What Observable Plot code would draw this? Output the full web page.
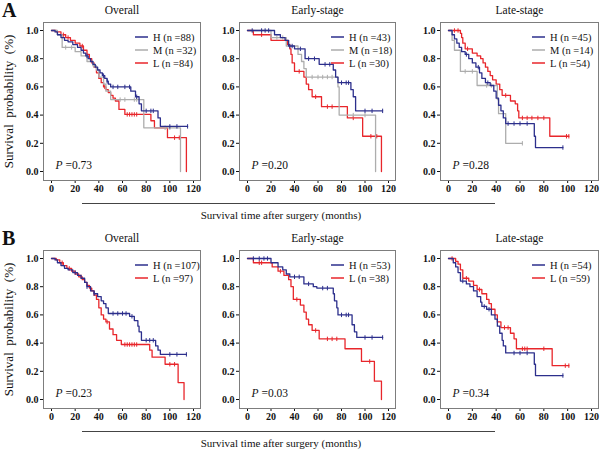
<!DOCTYPE html>
<html><head><meta charset="utf-8">
<script src="https://cdn.jsdelivr.net/npm/d3@7"></script>
<script src="https://cdn.jsdelivr.net/npm/@observablehq/plot@0.6"></script>
<style>
body{margin:0;background:#fff;}
#root{position:relative;width:600px;height:456px;background:#fff;font-family:"Liberation Serif","Times New Roman",serif;overflow:hidden;color:#111;}
#root svg{position:absolute;overflow:visible;}
#root [aria-label*="axis"] text{font-weight:bold;}
.letter{position:absolute;left:2px;font-size:20px;font-weight:bold;line-height:20px;}
.hline{position:absolute;left:82px;width:413px;border-top:1px solid #444;}
.xlab{position:absolute;left:181px;width:200px;text-align:center;font-size:11px;line-height:12px;}
</style></head><body><div id="root"></div>
<script>
// ---------- tick labels ----------
const xTicks = [0, 20, 40, 60, 80, 100, 120];
const yTicks = [0, 0.2, 0.4, 0.6, 0.8, 1.0];
const rowLetters = ["A", "B"];
const panelTitles = ["Overall", "Early-stage", "Late-stage"];
const pValuesA = ["0.73", "0.20", "0.28"];
const pValuesB = ["0.23", "0.03", "0.34"];
const xAxisTitle = "Survival time after surgery (months)";
const yAxisTitle = "Survival  probability  (%)";

// ---------- A: Overall ----------
const aOvH_t = [3,5,8,11,14,18,22,25,27,29,31,33,35,37,39,41,43,45,47,48,50,67,71,74,76,90,92];
const aOvH_s = [0.99,0.97,0.95,0.93,0.92,0.90,0.88,0.86,0.84,0.82,0.80,0.78,0.76,0.74,0.72,0.70,0.68,0.66,0.64,0.62,0.60,0.57,0.53,0.48,0.43,0.38,0.32];
const aOvH_c = [30,44,47,52,56,62,66,72,80,84,86,100,106,115];
const aOvM_t = [5,9,20,25,30,35,38,40,44,46,50,78,109];
const aOvM_s = [0.97,0.88,0.85,0.82,0.78,0.75,0.72,0.67,0.62,0.57,0.51,0.31,0];
const aOvM_c = [12,17,36,58,62,70,72,96,100];
const aOvL_t = [4,8,12,16,20,24,27,30,32,34,36,38,40,42,44,46,48,50,52,54,57,62,84,87,98,114];
const aOvL_s = [0.99,0.97,0.95,0.93,0.91,0.89,0.86,0.83,0.80,0.77,0.74,0.70,0.66,0.63,0.60,0.58,0.56,0.54,0.52,0.50,0.44,0.405,0.36,0.31,0.24,0];
const aOvL_c = [10,14,26,45,64,66,68,70,72,104,108];
// ---------- A: Early-stage ----------
const aEaH_t = [23,28,32,35,40,49,61,73,75,77,88,90,92];
const aEaH_s = [0.97,0.95,0.93,0.89,0.87,0.80,0.76,0.72,0.67,0.63,0.58,0.53,0.43];
const aEaH_c = [4,12,15,18,36,38,45,52,57,66,70,80,84,86,100,106,115];
const aEaM_t = [20,33,43,46,48,50,77,78,109];
const aEaM_s = [0.95,0.89,0.83,0.78,0.73,0.67,0.60,0.40,0];
const aEaM_c = [25,30,55,60,64,68,72,90,100];
const aEaL_t = [5,20,34,36,37,38,40,48,50,52,55,63,85,98,114];
const aEaL_s = [0.97,0.93,0.90,0.87,0.83,0.77,0.71,0.67,0.62,0.58,0.53,0.46,0.38,0.25,0];
const aEaL_c = [12,44,58,68,72,90,105,110];
// ---------- A: Late-stage ----------
const aLaH_t = [3,5,7,9,11,14,17,20,23,26,28,31,35,38,40,42,44,46,48,72,73];
const aLaH_s = [0.97,0.94,0.91,0.88,0.85,0.83,0.80,0.77,0.74,0.70,0.66,0.63,0.61,0.57,0.52,0.47,0.43,0.38,0.34,0.25,0.17];
const aLaH_c = [15,25,33,50,55,60,66,96];
const aLaM_t = [3,5,10,24,41,42,48];
const aLaM_s = [0.93,0.86,0.71,0.61,0.51,0.41,0.20];
const aLaM_c = [14,20,32,36,62];
const aLaL_t = [10,11,12,14,20,24,27,29,31,33,35,37,40,43,45,52,56,58,59,85];
const aLaL_s = [0.98,0.95,0.91,0.87,0.84,0.82,0.80,0.77,0.74,0.71,0.68,0.65,0.62,0.58,0.54,0.50,0.48,0.43,0.38,0.25];
const aLaL_c = [5,8,16,48,62,66,70,75,80,99,101];
// ---------- B: Overall ----------
const bOvH_t = [3,5,8,11,14,18,22,25,28,30,33,36,39,42,44,46,48,66,70,73,74,76,88,90,92];
const bOvH_s = [0.99,0.97,0.95,0.93,0.92,0.90,0.88,0.86,0.83,0.80,0.77,0.75,0.73,0.70,0.68,0.65,0.61,0.59,0.56,0.52,0.48,0.42,0.38,0.35,0.32];
const bOvH_c = [20,30,36,52,56,60,63,68,80,83,86,100,106,114];
const bOvL_t = [4,7,10,13,17,20,23,26,28,30,32,34,36,38,40,42,44,46,49,52,55,59,83,85,96,107,112];
const bOvL_s = [0.99,0.97,0.95,0.93,0.91,0.89,0.87,0.85,0.83,0.81,0.79,0.77,0.74,0.71,0.65,0.60,0.57,0.55,0.50,0.46,0.42,0.39,0.35,0.30,0.25,0.12,0];
const bOvL_c = [9,15,25,33,47,62,64,66,68,70,72,100,104];
// ---------- B: Early-stage ----------
const bEaH_t = [20,26,30,33,36,48,56,59,73,74,76,77,89,91,93];
const bEaH_s = [0.97,0.94,0.92,0.89,0.87,0.82,0.80,0.79,0.75,0.70,0.65,0.60,0.53,0.48,0.44];
const bEaH_c = [5,10,14,17,40,44,52,64,68,80,84,86,100,106,115];
const bEaL_t = [5,21,26,31,35,37,39,45,48,50,52,55,61,83,97,108,114];
const bEaL_s = [0.97,0.94,0.91,0.88,0.85,0.80,0.71,0.67,0.62,0.57,0.53,0.49,0.43,0.36,0.27,0.13,0];
const bEaL_c = [10,12,28,42,58,68,72,76,104];
// ---------- B: Late-stage ----------
const bLaH_t = [4,6,8,10,15,18,21,24,27,28,32,36,39,41,43,45,46,48,72,73];
const bLaH_s = [0.97,0.94,0.90,0.84,0.82,0.80,0.77,0.73,0.69,0.66,0.64,0.60,0.57,0.52,0.47,0.42,0.38,0.33,0.25,0.17];
const bLaH_c = [12,30,34,55,60,66,96];
const bLaL_t = [6,8,10,12,17,21,24,28,32,34,36,39,41,44,52,55,57,87];
const bLaL_s = [0.98,0.96,0.92,0.86,0.84,0.81,0.78,0.75,0.71,0.68,0.64,0.60,0.55,0.51,0.47,0.43,0.36,0.24];
const bLaL_c = [3,15,26,47,50,62,64,66,80,98,101];

// ---------- styling ----------
const BLUE = "#2c2f8c", RED = "#e8262b", GRAY = "#adadad";
const S = (label, color, t, s, c) => ({label, color, t, s, c});

const panels = [
  {row:0, col:0, p:pValuesA[0], series:[S("H (n =88)",BLUE,aOvH_t,aOvH_s,aOvH_c), S("M (n =32)",GRAY,aOvM_t,aOvM_s,aOvM_c), S("L (n =84)",RED,aOvL_t,aOvL_s,aOvL_c)]},
  {row:0, col:1, p:pValuesA[1], series:[S("H (n =43)",BLUE,aEaH_t,aEaH_s,aEaH_c), S("M (n =18)",GRAY,aEaM_t,aEaM_s,aEaM_c), S("L (n =30)",RED,aEaL_t,aEaL_s,aEaL_c)]},
  {row:0, col:2, p:pValuesA[2], series:[S("H (n =45)",BLUE,aLaH_t,aLaH_s,aLaH_c), S("M (n =14)",GRAY,aLaM_t,aLaM_s,aLaM_c), S("L (n =54)",RED,aLaL_t,aLaL_s,aLaL_c)]},
  {row:1, col:0, p:pValuesB[0], series:[S("H (n =107)",BLUE,bOvH_t,bOvH_s,bOvH_c), S("L (n =97)",RED,bOvL_t,bOvL_s,bOvL_c)]},
  {row:1, col:1, p:pValuesB[1], series:[S("H (n =53)",BLUE,bEaH_t,bEaH_s,bEaH_c), S("L (n =38)",RED,bEaL_t,bEaL_s,bEaL_c)]},
  {row:1, col:2, p:pValuesB[2], series:[S("H (n =54)",BLUE,bLaH_t,bLaH_s,bLaH_c), S("L (n =59)",RED,bLaL_t,bLaL_s,bLaL_c)]}
];

const colLayout = [
  {left:0, width:203, ml:43, mr:3},
  {left:203, width:197, ml:36, mr:5},
  {left:400, width:200, ml:40, mr:2}
];
const rowTop = [0, 228];
const PH = 200, MT = 22, MB = 20;

const tickSym = {draw(ctx, size){ const r = Math.sqrt(size / Math.PI); ctx.moveTo(0, -r); ctx.lineTo(0, r); }};

function km(se){
  const pts = [{x:0, y:1}];
  se.t.forEach((ti, i) => pts.push({x:ti, y:se.s[i]}));
  const lastT = se.t[se.t.length - 1];
  const end = Math.max(lastT, ...se.c);
  if (end > lastT) pts.push({x:end, y:se.s[se.s.length - 1]});
  const surv = x => { let v = 1; se.t.forEach((ti, i) => { if (ti <= x) v = se.s[i]; }); return v; };
  const cens = se.c.map(x => ({x, y:surv(x)}));
  return {pts, cens};
}

function legendMark(series, x0, y0){
  return () => {
    const g = d3.create("svg:g");
    series.forEach((se, i) => {
      const y = y0 + i * 13;
      g.append("line").attr("x1", x0).attr("x2", x0 + 13).attr("y1", y).attr("y2", y)
        .attr("stroke", se.color).attr("stroke-width", 1.5);
      g.append("text").attr("x", x0 + 18).attr("y", y).attr("dy", "0.35em")
        .attr("text-anchor", "start")
        .attr("font-size", 10.5).attr("font-weight", "normal").attr("fill", "#111")
        .attr("font-family", "Liberation Serif, serif").text(se.label);
    });
    return g.node();
  };
}

const root = document.getElementById("root");

panels.forEach(pn => {
  const L = colLayout[pn.col];
  const marks = [Plot.frame({stroke:"#7d7d7d"})];
  [...pn.series].reverse().forEach(se => {
    const {pts, cens} = km(se);
    marks.push(Plot.line(pts, {x:"x", y:"y", curve:"step-after", stroke:se.color, strokeWidth:1.3}));
    marks.push(Plot.dot(cens, {x:"x", y:"y", symbol:tickSym, r:2.2, stroke:se.color, strokeWidth:1, fill:"none"}));
  });
  marks.push(Plot.text([panelTitles[pn.col]], {frameAnchor:"top", dy:-12, lineAnchor:"middle", textAnchor:"middle", fontSize:11.5, fontWeight:"normal", fill:"#111"}));
  marks.push(Plot.text(["P"], {frameAnchor:"bottom-left", dx:12, dy:-15, lineAnchor:"middle", textAnchor:"start", fontSize:11.5, fontStyle:"italic", fontWeight:"normal", fill:"#111"}));
  marks.push(Plot.text(["=" + pn.p], {frameAnchor:"bottom-left", dx:22, dy:-15, lineAnchor:"middle", textAnchor:"start", fontSize:11.5, fontWeight:"normal", fill:"#111"}));
  if (pn.col === 0) {
    marks.push(Plot.text([yAxisTitle], {frameAnchor:"left", dx:-35, rotate:-90, textAnchor:"middle", lineAnchor:"middle", fontSize:13, fontWeight:"normal", fill:"#111"}));
  }
  marks.push(legendMark(pn.series, L.ml + 92, MT + 15));

  const svg = Plot.plot({
    width: L.width, height: PH,
    marginLeft: L.ml, marginRight: L.mr, marginTop: MT, marginBottom: MB,
    style: {fontFamily:"Liberation Serif, serif", fontSize:"10px", color:"#111", background:"transparent", overflow:"visible"},
    x: {domain:[0,120], ticks:xTicks, insetLeft:8, insetRight:7, tickSize:3, tickPadding:1, label:null},
    y: {domain:[0,1], ticks:yTicks, tickFormat:d => d.toFixed(1), insetTop:8, insetBottom:9, tickSize:3, tickPadding:2, label:null},
    marks
  });
  svg.style.left = L.left + "px";
  svg.style.top = rowTop[pn.row] + "px";
  root.appendChild(svg);
});

rowTop.forEach((top, i) => {
  const letter = document.createElement("div");
  letter.className = "letter"; letter.style.top = top + "px"; letter.textContent = rowLetters[i];
  root.appendChild(letter);
  const line = document.createElement("div");
  line.className = "hline"; line.style.top = (top + 203) + "px";
  root.appendChild(line);
  const lab = document.createElement("div");
  lab.className = "xlab"; lab.style.top = (top + 209) + "px"; lab.textContent = xAxisTitle;
  root.appendChild(lab);
});
</script>
</body></html>
